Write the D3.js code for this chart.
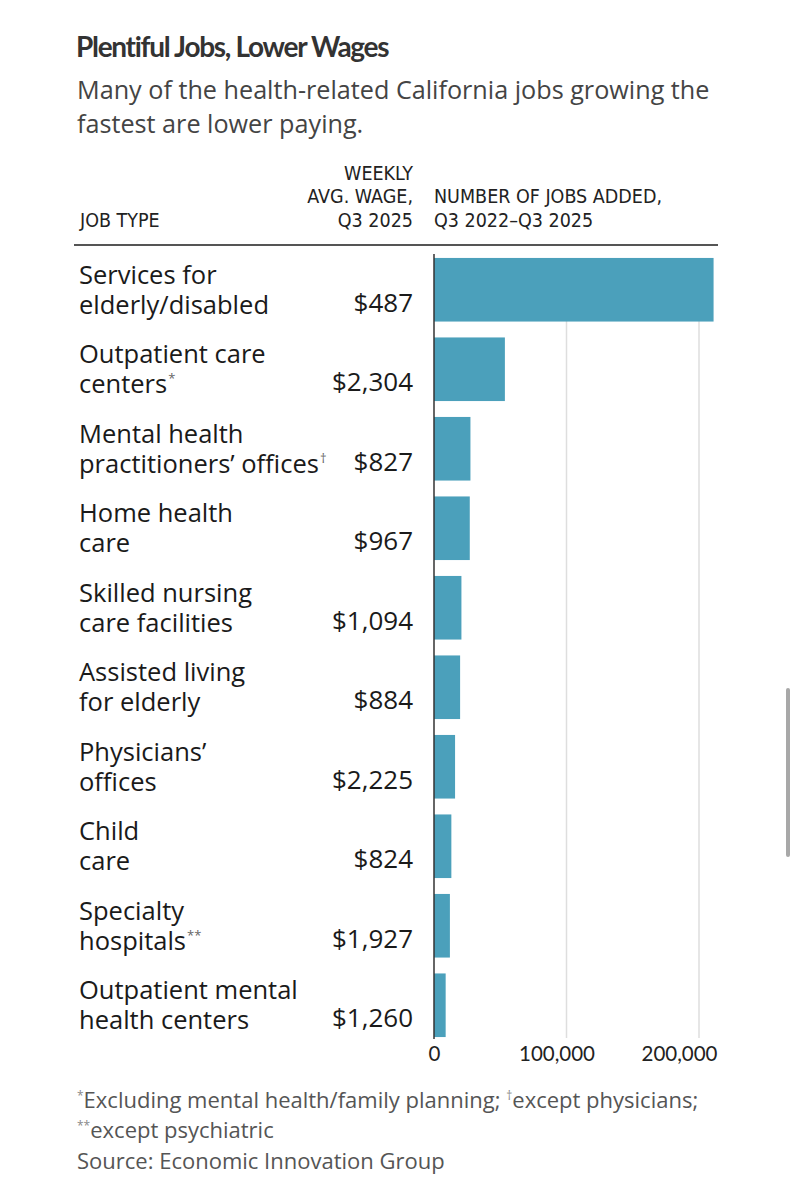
<!DOCTYPE html>
<html>
<head>
<meta charset="utf-8">
<script src="https://cdn.jsdelivr.net/npm/d3@7"></script>
<style>
  body { margin: 0; background: #fff; }
  svg { display: block; }
  .lbl { font-family: "Open Sans", "Noto Sans", sans-serif; fill: #1a1a1a; }
  .hdr { font-family: "DejaVu Sans Condensed", "Liberation Sans Narrow", sans-serif; fill: #222; font-size: 19.5px; }
</style>
</head>
<body>
<div id="chart"></div>
<script>
console.log("linked");

// data
const JOB_TYPES = [
  ["Services for", "elderly/disabled"],
  ["Outpatient care", "centers"],
  ["Mental health", "practitioners\u2019 offices"],
  ["Home health", "care"],
  ["Skilled nursing", "care facilities"],
  ["Assisted living", "for elderly"],
  ["Physicians\u2019", "offices"],
  ["Child", "care"],
  ["Specialty", "hospitals"],
  ["Outpatient mental", "health centers"]
];
const MARKS = ["", "*", "\u2020", "", "", "", "", "", "**", ""];
const WAGES = [487, 2304, 827, 967, 1094, 884, 2225, 824, 1927, 1260];
const JOBS_ADDED = [211000, 53500, 27500, 27000, 20700, 19700, 15900, 13100, 12000, 8800];
const X_TICKS = [0, 100000, 200000];

const FRAME_WIDTH = 796;
const FRAME_HEIGHT = 1200;
const BAR_COLOR = "#4ba0bb";

const FRAME = d3.select("#chart")
                .append("svg")
                  .attr("width", FRAME_WIDTH)
                  .attr("height", FRAME_HEIGHT);

// title + subtitle
FRAME.append("text")
      .attr("x", 76).attr("y", 57)
      .attr("font-family", "Lato, sans-serif")
      .attr("font-weight", 700)
      .attr("font-size", 28)
      .attr("letter-spacing", -1.3)
      .attr("fill", "#333")
      .text("Plentiful Jobs, Lower Wages");

const SUB = ["Many of the health-related California jobs growing the", "fastest are lower paying."];
FRAME.selectAll(".sub")
      .data(SUB)
      .enter()
      .append("text")
        .attr("class", "sub lbl")
        .attr("x", 77)
        .attr("y", (d, i) => 99 + i * 34)
        .attr("font-size", 25.2)
        .style("fill", "#444")
        .text(d => d);

// column headers
const WAGE_X = 413;
const X_SCALE = d3.scaleLinear()
                  .domain([0, 200000])
                  .range([434, 699]);

const hdr = [
  {t: "WEEKLY", x: WAGE_X, y: 180, a: "end"},
  {t: "AVG. WAGE,", x: WAGE_X, y: 203, a: "end"},
  {t: "Q3 2025", x: WAGE_X, y: 227, a: "end"},
  {t: "JOB TYPE", x: 80, y: 227, a: "start"},
  {t: "NUMBER OF JOBS ADDED,", x: X_SCALE(0), y: 203, a: "start"},
  {t: "Q3 2022\u2013Q3 2025", x: X_SCALE(0), y: 227, a: "start"}
];
FRAME.selectAll(".hdr")
      .data(hdr)
      .enter()
      .append("text")
        .attr("class", "hdr")
        .attr("x", d => d.x)
        .attr("y", d => d.y)
        .attr("text-anchor", d => d.a)
        .text(d => d.t);

FRAME.append("line")
      .attr("x1", 74).attr("x2", 718)
      .attr("y1", 245).attr("y2", 245)
      .attr("stroke", "#555")
      .attr("stroke-width", 2);

const Y_SCALE = d3.scaleBand()
                  .domain(d3.range(JOB_TYPES.length))
                  .range([250, 1045])
                  .paddingInner(0.2)
                  .paddingOuter(0.1);

const y0 = Y_SCALE(0);
const y1 = Y_SCALE(JOB_TYPES.length - 1) + Y_SCALE.bandwidth();

// gridlines
FRAME.selectAll(".grid")
      .data(X_TICKS.slice(1))
      .enter()
      .append("line")
        .attr("x1", d => X_SCALE(d)).attr("x2", d => X_SCALE(d))
        .attr("y1", y0).attr("y2", y1 + 1)
        .attr("stroke", "#dedede")
        .attr("stroke-width", 1.5);

FRAME.selectAll(".bar")
      .data(JOBS_ADDED)
      .enter()
      .append("rect")
        .attr("class", "bar")
        .attr("x", X_SCALE(0))
        .attr("y", (d, i) => Y_SCALE(i))
        .attr("width", d => X_SCALE(d) - X_SCALE(0))
        .attr("height", Y_SCALE.bandwidth())
        .style("fill", BAR_COLOR);

FRAME.append("line")
      .attr("x1", X_SCALE(0)).attr("x2", X_SCALE(0))
      .attr("y1", y0 - 4).attr("y2", y1 + 2)
      .attr("stroke", "#333")
      .attr("stroke-width", 1.5);

// job type labels
const rows = FRAME.selectAll(".row")
                  .data(JOB_TYPES)
                  .enter()
                  .append("g")
                    .attr("class", "row")
                    .attr("transform", (d, i) => "translate(0," + (Y_SCALE(i) + Y_SCALE.bandwidth() / 2) + ")");

rows.append("text")
      .attr("class", "lbl")
      .attr("x", 79)
      .attr("y", -6)
      .attr("font-size", 25.5)
      .text(d => d[0]);

const second = rows.append("text")
      .attr("class", "lbl")
      .attr("x", 79)
      .attr("y", 24)
      .attr("font-size", 25.5);
second.append("tspan").text(d => d[1]);
second.append("tspan")
      .attr("font-size", 13)
      .attr("dy", -10)
      .attr("dx", 1)
      .style("fill", "#666")
      .text((d, i) => MARKS[i]);

rows.append("text")
      .attr("class", "lbl")
      .attr("x", WAGE_X)
      .attr("y", 22)
      .attr("text-anchor", "end")
      .attr("font-size", 26)
      .text((d, i) => "$" + d3.format(",")(WAGES[i]));

// x axis
const xAxis = FRAME.append("g")
      .attr("transform", "translate(0," + (y1 + 6) + ")")
      .call(d3.axisBottom(X_SCALE).tickValues(X_TICKS).tickSize(0).tickFormat(d3.format(",")));
xAxis.select(".domain").remove();
xAxis.selectAll("text")
      .attr("font-family", "Lato, sans-serif")
      .attr("font-size", 20.5)
      .attr("fill", "#222")
      .attr("dy", "0.75em")
      .attr("dx", (d, i) => -10 * i);

// footnotes
const NOTE_Y = [1108, 1138, 1169];
const note1 = FRAME.append("text").attr("class", "lbl").attr("x", 77).attr("y", NOTE_Y[0]).attr("font-size", 22).style("fill", "#555");
note1.append("tspan").attr("font-size", 12).attr("dy", -8).style("fill", "#888").text("*");
note1.append("tspan").attr("dy", 8).text("Excluding mental health/family planning; ");
note1.append("tspan").attr("font-size", 12).attr("dy", -8).style("fill", "#888").text("\u2020");
note1.append("tspan").attr("dy", 8).text("except physicians;");

const note2 = FRAME.append("text").attr("class", "lbl").attr("x", 77).attr("y", NOTE_Y[1]).attr("font-size", 22).style("fill", "#555");
note2.append("tspan").attr("font-size", 12).attr("dy", -8).style("fill", "#888").text("**");
note2.append("tspan").attr("dy", 8).text("except psychiatric");

FRAME.append("text").attr("class", "lbl").attr("x", 77).attr("y", NOTE_Y[2]).attr("font-size", 22).style("fill", "#555")
      .text("Source: Economic Innovation Group");

// scroll indicator from the screenshot
FRAME.append("rect")
      .attr("x", 786).attr("y", 688)
      .attr("width", 4).attr("height", 169)
      .attr("rx", 2)
      .style("fill", "#a8a8a8");
</script>
</body>
</html>
